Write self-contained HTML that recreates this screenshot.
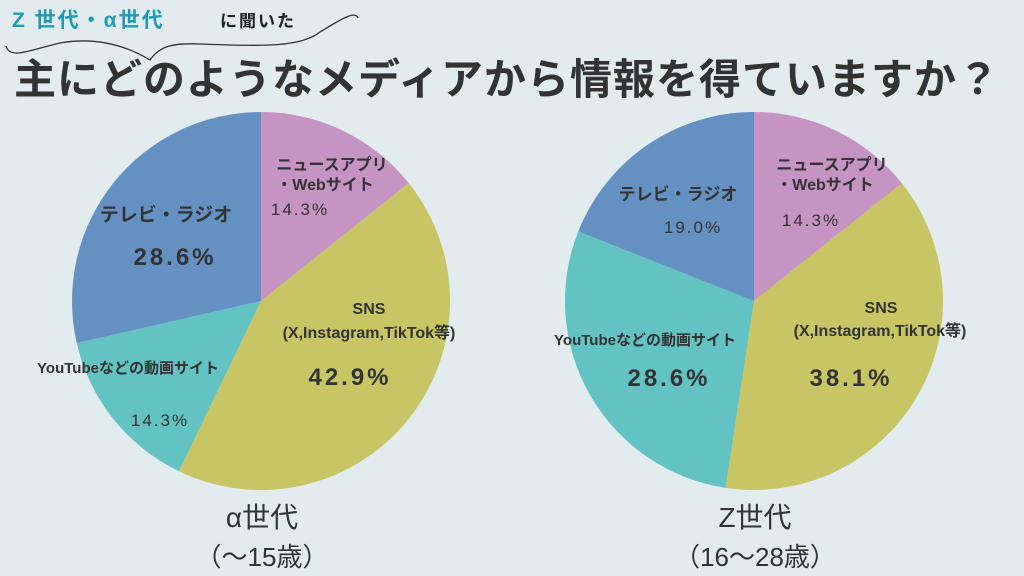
<!DOCTYPE html>
<html><head><meta charset="utf-8"><style>
html,body{margin:0;padding:0;background:#e2ebee;}
svg{display:block;font-family:"Liberation Sans","Noto Sans CJK JP",sans-serif;}
</style></head><body>
<svg id="c" width="1024" height="576" viewBox="0 0 1024 576">
<rect width="1024" height="576" fill="#e2ebee"/>
<text x="12" y="27" font-size="21" font-weight="bold" fill="#1f9bb5" letter-spacing="2">Z 世代・α世代</text>
<text x="220" y="27" font-size="17" font-weight="bold" fill="#222" letter-spacing="2">に聞いた</text>
<path d="M6,46 C10,60 30,50 60,43 C100,36 130,48 150,60 C160,45 175,43 200,44 C260,46 300,48 320,32 C340,20 355,10 358,18" fill="none" stroke="#333" stroke-width="1.3"/>
<text x="14" y="94" font-size="42" font-weight="bold" fill="#333" letter-spacing="1">主にどのようなメディアから情報を得ていますか？</text>
<g id="pies"></g>
<g font-weight="bold" fill="#333" text-anchor="middle">
<text x="332" y="170" font-size="16">ニュースアプリ</text>
<text x="325" y="190" font-size="16">・Webサイト</text>
<text x="300" y="215" font-size="17" font-weight="normal" letter-spacing="2">14.3%</text>
<text x="369" y="314" font-size="16">SNS</text>
<text x="369" y="338" font-size="16">(X,Instagram,TikTok等)</text>
<text x="350" y="385" font-size="24" letter-spacing="3">42.9%</text>
<text x="166" y="221" font-size="19">テレビ・ラジオ</text>
<text x="175" y="265" font-size="24" letter-spacing="3">28.6%</text>
<text x="128" y="373" font-size="15">YouTubeなどの動画サイト</text>
<text x="160" y="426" font-size="17" font-weight="normal" letter-spacing="2">14.3%</text>
<text x="832" y="170" font-size="16">ニュースアプリ</text>
<text x="825" y="190" font-size="16">・Webサイト</text>
<text x="811" y="226" font-size="17" font-weight="normal" letter-spacing="2">14.3%</text>
<text x="881" y="313" font-size="16">SNS</text>
<text x="880" y="336" font-size="16">(X,Instagram,TikTok等)</text>
<text x="851" y="386" font-size="24" letter-spacing="3">38.1%</text>
<text x="678" y="200" font-size="17">テレビ・ラジオ</text>
<text x="693" y="233" font-size="17" font-weight="normal" letter-spacing="2">19.0%</text>
<text x="645" y="345" font-size="15">YouTubeなどの動画サイト</text>
<text x="669" y="386" font-size="24" letter-spacing="3">28.6%</text>
<text x="262" y="527" font-size="28" font-weight="normal">α世代</text>
<text x="262" y="566" font-size="26" font-weight="normal">（～15歳）</text>
<text x="755" y="527" font-size="28" font-weight="normal">Z世代</text>
<text x="755" y="566" font-size="26" font-weight="normal">（16～28歳）</text>
</g>
</svg>
<script>
const categories = ["news", "sns", "youtube", "tv"];
const alphaValues = [14.3, 42.9, 14.3, 28.6];
const zValues = [14.3, 38.1, 28.6, 19.0];
const colors = ["#c594c3", "#c8c664", "#63c2c2", "#6591c2"];
const NS = "http://www.w3.org/2000/svg";
const g = document.getElementById("pies");
function drawPie(vals, cx, cy, r, tag) {
  const total = vals.reduce((a, b) => a + b, 0);
  let a0 = -Math.PI / 2;
  vals.forEach((v, i) => {
    const a1 = a0 + v / total * 2 * Math.PI;
    const x0 = cx + r * Math.cos(a0), y0 = cy + r * Math.sin(a0);
    const x1 = cx + r * Math.cos(a1), y1 = cy + r * Math.sin(a1);
    const large = (a1 - a0) > Math.PI ? 1 : 0;
    const p = document.createElementNS(NS, "path");
    p.setAttribute("d", `M${cx},${cy} L${x0},${y0} A${r},${r} 0 ${large} 1 ${x1},${y1} Z`);
    p.setAttribute("fill", colors[i]);
    
    
    g.appendChild(p);
    a0 = a1;
  });
}
drawPie(alphaValues, 261, 301, 189, "alpha");
drawPie(zValues, 754, 301, 189, "z");
</script>
</body></html>
